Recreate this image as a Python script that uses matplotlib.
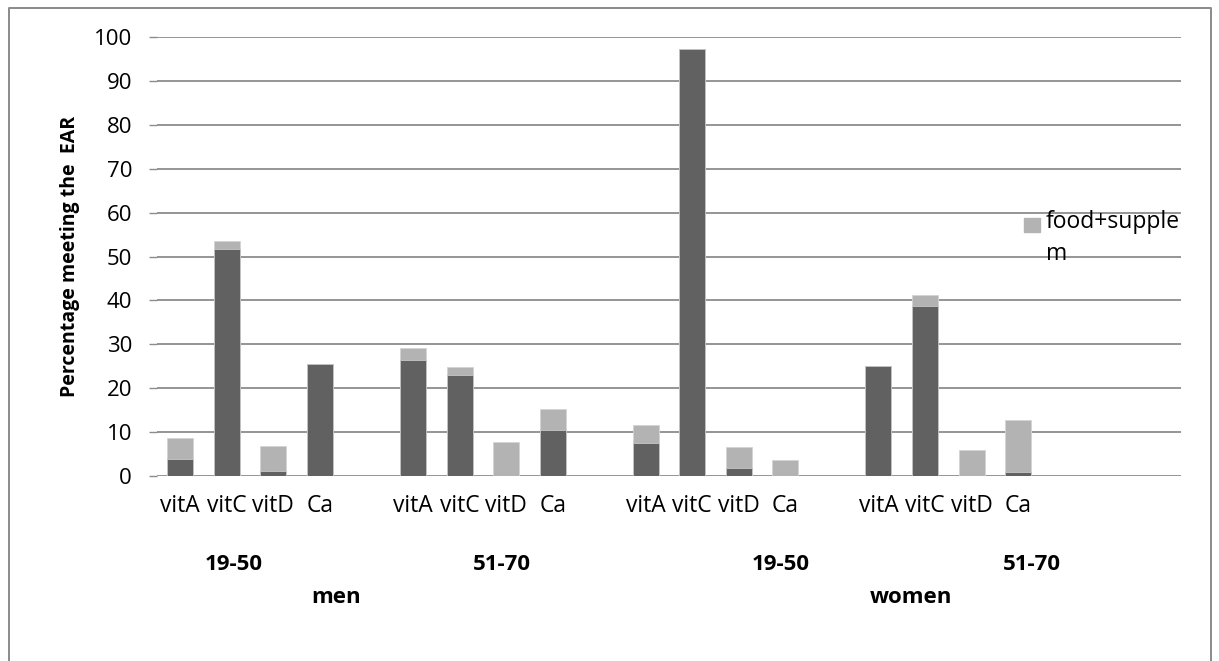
#!/usr/bin/env python3

# Share of adults meeting the EAR, food vs food+supplements
import matplotlib.pyplot as plt
from matplotlib.patches import Rectangle
from matplotlib.lines import Line2D

plt.rcParams['font.family'] = ['Open Sans', 'DejaVu Sans']

# one slot per category, empty strings are the gaps between groups
nutrients = ['vitA', 'vitC', 'vitD', 'Ca', '',
             'vitA', 'vitC', 'vitD', 'Ca', '',
             'vitA', 'vitC', 'vitD', 'Ca', '',
             'vitA', 'vitC', 'vitD', 'Ca', '', '', '']

# food only (dark)
food = [3.8, 51.7, 1.2, 25.5, 0,
        26.4, 23.0, 0, 10.5, 0,
        7.5, 97.2, 1.8, 0, 0,
        25.0, 38.7, 0, 1.0, 0, 0, 0]

# food + supplements (light, total height)
food_supplem = [8.7, 53.5, 6.9, 25.5, 0,
                29.2, 24.8, 7.7, 15.3, 0,
                11.6, 97.2, 6.7, 3.7, 0,
                25.0, 41.2, 6.0, 12.7, 0, 0, 0]

age_labels = ['19-50', '51-70', '19-50', '51-70']
age_pos = [1.15, 6.9, 12.9, 18.3]
sex_labels = ['men', 'women']
sex_pos = [3.35, 15.7]

dark = '#616161'
light = '#b3b3b3'
grid = '#8c8c8c'

fig = plt.figure(figsize=(12.19, 6.61), dpi=100)
ax = fig.add_axes([157 / 1219, 1 - 476 / 661, 1024 / 1219, 439 / 661])

x = list(range(len(nutrients)))
ax.bar(x, food_supplem, width=0.56, color=light, edgecolor='#d4d4d4',
       linewidth=0.6, zorder=3)
ax.bar(x, food, width=0.56, color=dark, edgecolor='#c8c8c8',
       linewidth=0.6, zorder=4)

ax.set_xlim(-0.5, len(nutrients) - 0.5)
ax.set_ylim(0, 100)
ax.set_yticks(range(0, 101, 10))
ax.yaxis.grid(True, color=grid, linewidth=1.3)
ax.set_axisbelow(True)
for s in ax.spines.values():
    s.set_visible(False)

ax.set_xticks(x)
ax.set_xticklabels(nutrients, fontsize=16.5)
ax.tick_params(axis='x', length=0, pad=13)
ax.tick_params(axis='y', labelsize=16, length=6, color=grid, width=1.0, pad=12)

ax.set_ylabel('Percentage meeting the  EAR', fontsize=14, fontweight='bold',
              labelpad=10)

# second and third level category labels
trans = ax.get_xaxis_transform()
for lab, xp in zip(age_labels, age_pos):
    ax.text(xp, -0.202, lab, transform=trans, ha='center', va='center',
            fontsize=16, fontweight='bold')
for lab, xp in zip(sex_labels, sex_pos):
    ax.text(xp, -0.277, lab, transform=trans, ha='center', va='center',
            fontsize=16, fontweight='bold')

# legend, only the light series is shown
fig.patches.append(Rectangle((1024 / 1219, 1 - 232 / 661), 15.5 / 1219, 14 / 661,
                             transform=fig.transFigure, color=light))
fig.text(1046 / 1219, 1 - 210 / 661, 'food+supple\nm', fontsize=16.5,
         ha='left', va='top', linespacing=1.45)

# chart area frame
border = '#8a8a8a'
fig.lines.append(Line2D([9 / 1219, 9 / 1219, 1211 / 1219, 1211 / 1219],
                        [0, 1 - 8 / 661, 1 - 8 / 661, 0],
                        transform=fig.transFigure, color=border, linewidth=1.4))

fig.savefig('out.png', dpi=100)
